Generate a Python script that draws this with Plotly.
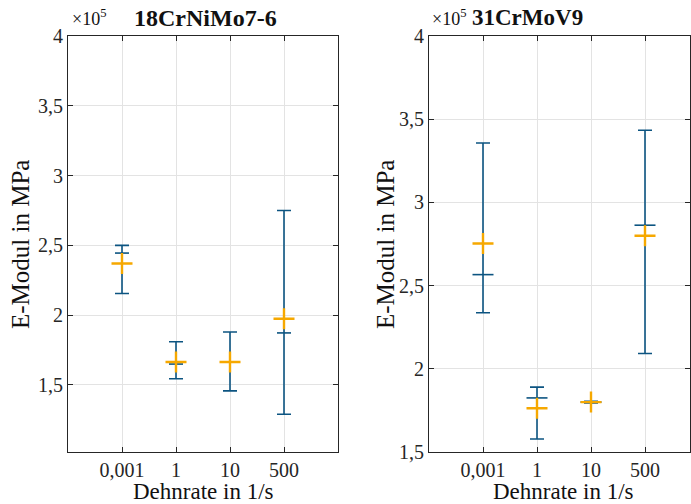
import plotly.graph_objects as go

categories = ["0,001", "1", "10", "500"]
xpos = [1, 2, 3, 4]

# 18CrNiMo7-6 (MPa)
left_mean = [2.37e5, 1.665e5, 1.665e5, 1.975e5]
left_high = [2.50e5, 1.81e5, 1.88e5, 2.75e5]
left_low = [2.155e5, 1.545e5, 1.458e5, 1.29e5]
left_inner = [2.445e5, 1.65e5, 1.665e5, 1.873e5]

# 31CrMoV9 (MPa)
right_mean = [2.753e5, 1.763e5, 1.80e5, 2.80e5]
right_high = [3.357e5, 1.89e5, 1.805e5, 3.434e5]
right_low = [2.337e5, 1.578e5, 1.795e5, 2.092e5]
right_inner = [2.566e5, 1.825e5, 1.80e5, 2.863e5]

ytick_vals = [1.5e5, 2e5, 2.5e5, 3e5, 3.5e5, 4e5]
ytick_text = ["1,5", "2", "2,5", "3", "3,5", "4"]

BLUE = "#0c5481"
ORANGE = "#f6a800"
FONT = "Liberation Serif"
W, H = 691, 504

fig = go.Figure()

def add_panel(mean, high, low, inner, xa, ya, inner_size):
    fig.add_trace(go.Scatter(
        x=xpos, y=mean, mode="markers", xaxis=xa, yaxis=ya,
        marker=dict(size=1, color="rgba(0,0,0,0)"),
        error_y=dict(type="data", symmetric=False,
                     array=[h - m for h, m in zip(high, mean)],
                     arrayminus=[m - l for m, l in zip(mean, low)],
                     color=BLUE, thickness=1.6, width=7),
        showlegend=False, hoverinfo="skip"))
    fig.add_trace(go.Scatter(
        x=xpos, y=inner, mode="markers", xaxis=xa, yaxis=ya,
        marker=dict(symbol="line-ew", size=inner_size,
                    line=dict(color=BLUE, width=1.6)),
        showlegend=False))
    fig.add_trace(go.Scatter(
        x=xpos, y=mean, mode="markers", xaxis=xa, yaxis=ya,
        marker=dict(symbol="cross-thin", size=15,
                    line=dict(color=ORANGE, width=2.4)),
        showlegend=False))

add_panel(left_mean, left_high, left_low, left_inner, "x", "y", 10)
add_panel(right_mean, right_high, right_low, right_inner, "x2", "y2", 15)

ytop, ybot = 36, 452
ydom = [1 - ybot / H, 1 - ytop / H]

axis_common = dict(
    showline=True, linecolor="#262626", linewidth=1, mirror="allticks",
    ticks="inside", ticklen=5, tickcolor="#262626", automargin=False,
    showgrid=True, gridcolor="#e3e3e3", gridwidth=1, zeroline=False,
    tickfont=dict(family=FONT, size=20, color="#262626"),
)

fig.update_layout(
    width=W, height=H,
    margin=dict(l=0, r=0, t=0, b=0, pad=0, autoexpand=False),
    paper_bgcolor="white", plot_bgcolor="white",
    xaxis=dict(domain=[68 / W, 338 / W], range=[0, 5], tickvals=xpos,
               ticktext=categories, anchor="y", **axis_common),
    yaxis=dict(domain=ydom, range=[1.02e5, 4e5], tickvals=ytick_vals,
               ticktext=ytick_text, anchor="x", **axis_common),
    xaxis2=dict(domain=[429 / W, 690 / W], range=[0, 261 / 54], tickvals=xpos,
                ticktext=categories, anchor="y2", **axis_common),
    yaxis2=dict(domain=ydom, range=[1.5e5, 4e5], tickvals=ytick_vals,
                ticktext=ytick_text, anchor="x2", **axis_common),
)

def ann(text, x, y, size, bold=False, angle=0, xanchor="center"):
    fig.add_annotation(text=f"<b>{text}</b>" if bold else text,
                       xref="paper", yref="paper", x=x / W, y=1 - y / H,
                       showarrow=False, textangle=angle, xanchor=xanchor,
                       yanchor="middle",
                       font=dict(family=FONT, size=size, color="#111111"))

ann("18CrNiMo7-6", 205, 18, 24, bold=True)
ann("31CrMoV9", 527, 18, 23, bold=True)
ann("×10<sup>5</sup>", 70, 18, 18, xanchor="left")
ann("×10<sup>5</sup>", 430, 18, 18, xanchor="left")
ann("E-Modul in MPa", 20, 245, 25, angle=-90)
ann("E-Modul in MPa", 385, 245, 25, angle=-90)
ann("Dehnrate in 1/s", 203, 491, 23)
ann("Dehnrate in 1/s", 563, 491, 23)

fig.write_html("out.html", config={"displayModeBar": False},
               post_script="document.body.style.margin='0px';document.body.style.overflow='hidden';")
